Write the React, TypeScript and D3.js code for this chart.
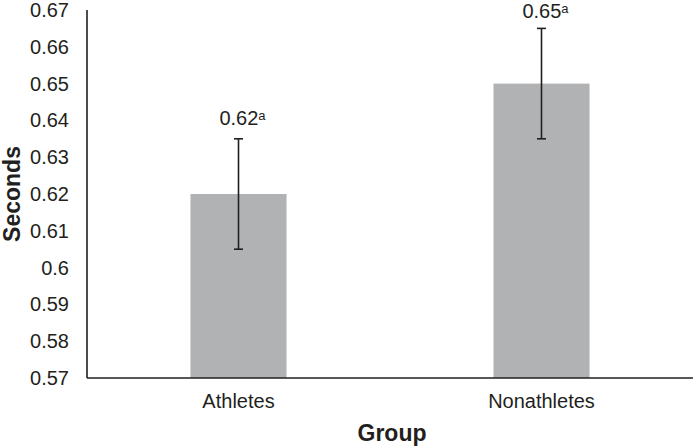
import React from "react";
import * as d3 from "d3";

const categories = ["Athletes", "Nonathletes"];
const means = [0.62, 0.65];
const errors = [0.015, 0.015];
const labels = ["0.62", "0.65"];
const superscripts = ["a", "a"];
const yTicks = [0.57, 0.58, 0.59, 0.6, 0.61, 0.62, 0.63, 0.64, 0.65, 0.66, 0.67];

const W = 693;
const H = 447;
const left = 87;
const right = 693;
const top = 10;
const bottom = 378;
const font = "'Liberation Sans', Arial, Helvetica, sans-serif";
const dark = "#231f20";

export default function App() {
  const x = d3.scaleBand<string>().domain(categories).range([left, right]).paddingInner(0.683).paddingOuter(0.3415);
  const y = d3.scaleLinear().domain([0.57, 0.67]).range([bottom, top]);
  const bw = x.bandwidth();
  const cap = 4.5;
  return (
    <svg width={W} height={H} style={{ position: "absolute", left: 0, top: 0, background: "#fff" }}>
      {categories.map((c, i) => {
        const cx = (x(c) as number) + bw / 2;
        const ly = Math.max(18, y(means[i] + errors[i]) - 13.5);
        return (
          <g key={c}>
            <rect x={x(c)} y={y(means[i])} width={bw} height={bottom - y(means[i])} fill="#b1b2b4" />
            <line x1={cx} x2={cx} y1={y(means[i] + errors[i])} y2={y(means[i] - errors[i])} stroke={dark} strokeWidth={1.6} />
            <line x1={cx - cap} x2={cx + cap} y1={y(means[i] + errors[i])} y2={y(means[i] + errors[i])} stroke={dark} strokeWidth={1.6} />
            <line x1={cx - cap} x2={cx + cap} y1={y(means[i] - errors[i])} y2={y(means[i] - errors[i])} stroke={dark} strokeWidth={1.6} />
            <text x={cx + 4} y={ly} textAnchor="middle" fontFamily={font} fontSize={20} fill={dark}>
              {labels[i]}
              <tspan fontSize={13} dy={-5}>{superscripts[i]}</tspan>
            </text>
            <text x={cx} y={408} textAnchor="middle" fontFamily={font} fontSize={20} fill={dark}>{c}</text>
          </g>
        );
      })}
      {yTicks.map((t) => (
        <text key={t} x={69} y={y(t) + 7} textAnchor="end" fontFamily={font} fontSize={20} fill={dark}>
          {d3.format("")(+t.toFixed(2))}
        </text>
      ))}
      <line x1={left} x2={left} y1={top} y2={bottom} stroke={dark} strokeWidth={1.6} />
      <line x1={left} x2={right} y1={bottom} y2={bottom} stroke={dark} strokeWidth={1.6} />
      <text x={392} y={441} textAnchor="middle" fontFamily={font} fontSize={23} fontWeight="bold" fill={dark}>Group</text>
      <text transform={`translate(19.5,${(top + bottom) / 2}) rotate(-90)`} textAnchor="middle" fontFamily={font} fontSize={23} fontWeight="bold" fill={dark}>Seconds</text>
    </svg>
  );
}
